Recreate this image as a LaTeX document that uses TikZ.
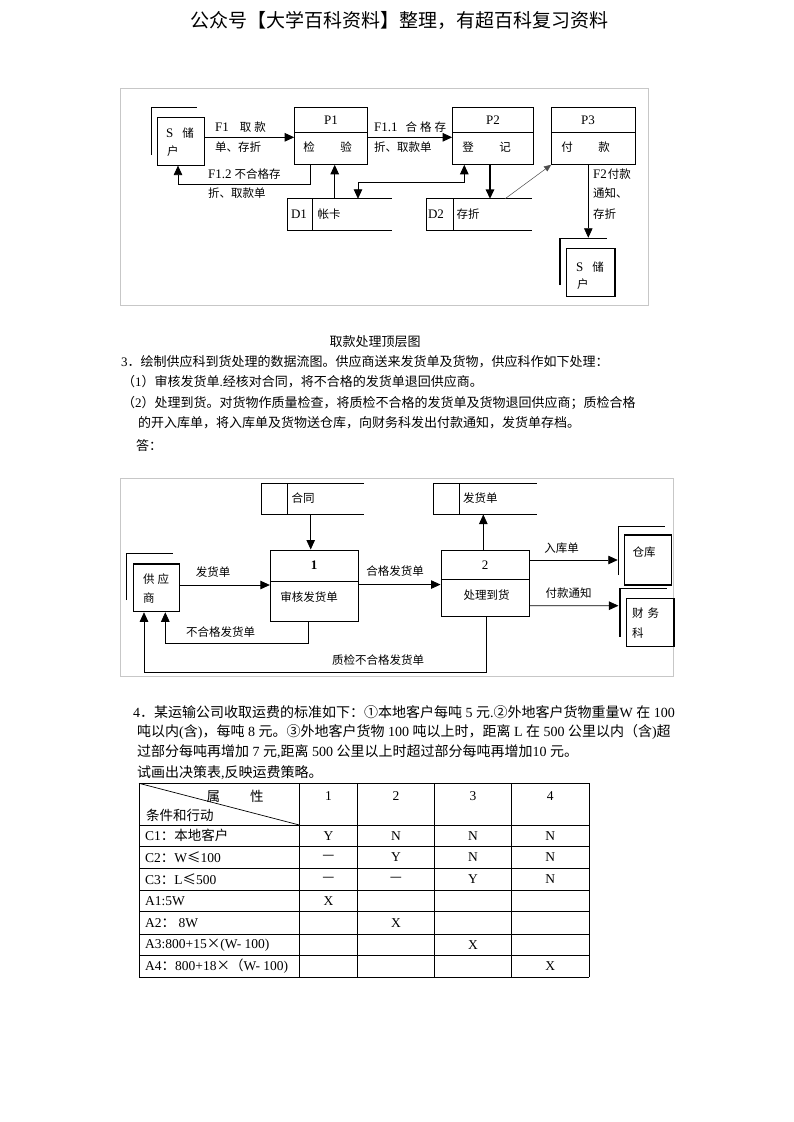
\documentclass[tikz,border=0pt]{standalone}
\usepackage{fontspec}
\setmainfont{Liberation Serif}
\newfontfamily\cjk{Noto Sans CJK SC}
\usetikzlibrary{arrows.meta}
\newcommand\zh[1]{{\cjk #1}}
\newcommand\zd[1]{{\cjk\fontsize{11.5}{13}\selectfont #1}}
\begin{document}
\begin{tikzpicture}[x=1pt,y=-1pt,
  ln/.style={line width=0.8pt},
  arr/.style={line width=0.8pt,-{Triangle[length=9.5pt,width=8.5pt]}},
  arrboth/.style={line width=0.8pt,{Triangle[length=9.5pt,width=8.5pt]}-{Triangle[length=9.5pt,width=8.5pt]}},
  procbox/.style={draw,line width=1pt,inner sep=0},
  entbox/.style={draw,line width=1.1pt,inner sep=0},
  storbox/.style={inner sep=0},
  shadowv/.style={line width=1.6pt},
  shadowh/.style={line width=0.9pt},
  frame/.style={draw=black!22,line width=0.9pt,inner sep=0},
  dtxt/.style={inner sep=0,font=\fontsize{13}{14}\selectfont},
  parx/.style={inner sep=0,anchor=west,font=\fontsize{13}{15}\selectfont},
  parf/.style={inner sep=0,anchor=west,font=\fontsize{14}{16}\selectfont},
  tb/.style={inner sep=0,font=\fontsize{13.5}{15}\selectfont},
  tbl/.style={line width=0.7pt}]
\fill[white] (0,0) rectangle (793,1122);
\useasboundingbox (0,0) rectangle (793,1122);

% header
\node[inner sep=0,font=\fontsize{19}{21}\selectfont] (hdr) at (399.5,20) {\zh{公众号【大学百科资料】整理，有超百科复习资料}};

% ================= diagram 1 =================
\node[frame,minimum width=528pt,minimum height=217pt] (fr1) at (384,196.5) {};

% S entity 1
\node[entbox,minimum width=47.4pt,minimum height=47.7pt] (s1) at (181,141.2) {};
\draw[shadowv] (151.3,155) -- (151.3,107.7);
\draw[shadowh] (151.3,107.7) -- (197,107.7);
\node[dtxt,anchor=west] (s1a) at (166,133) {S\hspace{9pt}\zd{储}};
\node[dtxt,anchor=west] (s1b) at (167,151) {\zd{户}};

% P1
\node[procbox,minimum width=72.6pt,minimum height=57pt] (p1) at (331,135.8) {};
\draw[ln] ([yshift=3.5pt]p1.west) -- ([yshift=3.5pt]p1.east);
\node[dtxt] (p1h) at (331,120) {P1};
\node[dtxt] (p1a) at (309,147.3) {\zd{检}};
\node[dtxt] (p1b) at (346,147.3) {\zd{验}};

% P2
\node[procbox,minimum width=81.3pt,minimum height=57pt] (p2) at (493.3,135.8) {};
\draw[ln] ([yshift=3.5pt]p2.west) -- ([yshift=3.5pt]p2.east);
\node[dtxt] (p2h) at (493,120) {P2};
\node[dtxt] (p2a) at (468,147.3) {\zd{登}};
\node[dtxt] (p2b) at (505,147.3) {\zd{记}};

% P3
\node[procbox,minimum width=84.3pt,minimum height=57pt] (p3) at (593.8,135.8) {};
\draw[ln] ([yshift=3.5pt]p3.west) -- ([yshift=3.5pt]p3.east);
\node[dtxt] (p3h) at (588,120) {P3};
\node[dtxt] (p3a) at (567,147.3) {\zd{付}};
\node[dtxt] (p3b) at (604,147.3) {\zd{款}};

% D1
\node[storbox,minimum width=104pt,minimum height=31.7pt] (d1) at (339.3,214.85) {};
\draw[line width=1pt] (d1.north east) -- (d1.north west) -- (d1.south west) -- (d1.south east);
\draw[line width=1pt] ([xshift=25pt]d1.north west) -- ([xshift=25pt]d1.south west);
\node[dtxt] (d1a) at (299,214) {D1};
\node[dtxt] (d1b) at (329,214) {\zd{帐卡}};

% D2
\node[storbox,minimum width=105pt,minimum height=31.7pt] (d2) at (479.2,214.85) {};
\draw[line width=1pt] (d2.north east) -- (d2.north west) -- (d2.south west) -- (d2.south east);
\draw[line width=1pt] ([xshift=26.6pt]d2.north west) -- ([xshift=26.6pt]d2.south west);
\node[dtxt] (d2a) at (436,214) {D2};
\node[dtxt] (d2b) at (468,214) {\zd{存折}};

% S entity 2
\node[entbox,minimum width=48.3pt,minimum height=48.4pt] (s2) at (590.8,272.5) {};
\draw[shadowv] (560,285) -- (560,238.3);
\draw[shadowh] (560,238.3) -- (606.7,238.3);
\node[dtxt,anchor=west] (s2a) at (576,266.7) {S\hspace{9pt}\zd{储}};
\node[dtxt,anchor=west] (s2b) at (577,284) {\zd{户}};

% connectors diagram 1
\draw[arr] ([yshift=3.9pt]s1.east) -- ([yshift=-1.5pt]p1.west);
\draw[arr] ([yshift=-1.5pt]p1.east) -- ([yshift=-1.5pt]p2.west);
\draw[arr] ([xshift=-20.7pt]p1.south) -- ++(0,19.7) -| ([xshift=-3pt]s1.south);
\draw[arr] ([xshift=-4.6pt]d1.north) -- ([xshift=3.7pt]p1.south);
\draw[arrboth] ([xshift=-29pt]p2.south) -- ++(0,17.4) -| ([xshift=18.7pt]d1.north);
\draw[arr,line width=1.6pt] ([xshift=-3.3pt]p2.south) -- ([xshift=10.8pt]d2.north);
\draw[line width=0.5pt,black!70,-{Triangle[length=7pt,width=6pt]}] ([xshift=25.8pt]d2.north) -- (p3.south west);
\draw[arr] ([xshift=-5.5pt]p3.south) -- ([xshift=-2.5pt,yshift=10pt]s2.north);

% labels diagram 1
\node[dtxt,anchor=west] (f1a) at (215,127) {F1\hspace{11pt}\zd{取\hspace{3pt}款}};
\node[dtxt,anchor=west] (f1b) at (215,147) {\zd{单、存折}};
\node[dtxt,anchor=west] (f11a) at (374,127) {F1.1\hspace{8pt}\zd{合\hspace{3pt}格\hspace{3pt}存}};
\node[dtxt,anchor=west] (f11b) at (374,147) {\zd{折、取款单}};
\node[dtxt,anchor=west] (f12a) at (208,174) {F1.2\hspace{3pt}\zd{不合格存}};
\node[dtxt,anchor=west] (f12b) at (208,193) {\zd{折、取款单}};
\node[dtxt,anchor=west] (f2a) at (593,174) {F2\hspace{1pt}\zd{付款}};
\node[dtxt,anchor=west] (f2b) at (593,193) {\zd{通知、}};
\node[dtxt,anchor=west] (f2c) at (593,214) {\zd{存折}};

% caption and text section 3
\node[inner sep=0,font=\fontsize{13}{15}\selectfont] (cap1) at (375,341.5) {\zh{取款处理顶层图}};
\node[parx] (q3a) at (121,362) {3\zh{．绘制供应科到货处理的数据流图。供应商送来发货单及货物，供应科作如下处理：}};
\node[parx] (q3b) at (122,382) {\zh{（}1\zh{）审核发货单}.\zh{经核对合同，将不合格的发货单退回供应商。}};
\node[parx] (q3c) at (122,403) {\zh{（}2\zh{）处理到货。对货物作质量检查，将质检不合格的发货单及货物退回供应商；质检合格}};
\node[parx] (q3d) at (138,423) {\zh{的开入库单，将入库单及货物送仓库，向财务科发出付款通知，发货单存档。}};
\node[parx] (q3e) at (136,446) {\zh{答：}};

% ================= diagram 2 =================
\node[frame,minimum width=553pt,minimum height=198pt] (fr2) at (396.5,577) {};

% 合同 store
\node[storbox,minimum width=102.7pt,minimum height=31pt] (ht) at (312.65,498.8) {};
\draw[line width=1pt] (ht.north east) -- (ht.north west) -- (ht.south west) -- (ht.south east);
\draw[line width=1pt] ([xshift=26pt]ht.north west) -- ([xshift=26pt]ht.south west);
\node[dtxt] (hta) at (303,498) {\zd{合同}};

% 发货单 store
\node[storbox,minimum width=103.4pt,minimum height=31pt] (fh) at (485,498.8) {};
\draw[line width=1pt] (fh.north east) -- (fh.north west) -- (fh.south west) -- (fh.south east);
\draw[line width=1pt] ([xshift=26pt]fh.north west) -- ([xshift=26pt]fh.south west);
\node[dtxt,anchor=west] (fha) at (463,498) {\zd{发货单}};

% process 1
\node[procbox,minimum width=87.7pt,minimum height=71.7pt] (q1) at (314.2,585.85) {};
\draw[ln] ([yshift=4.15pt]q1.west) -- ([yshift=4.15pt]q1.east);
\node[dtxt] (q1h) at (314,565) {\textbf{1}};
\node[dtxt] (q1a) at (309,596.7) {\zd{审核发货单}};

% process 2
\node[procbox,minimum width=88pt,minimum height=66.7pt] (q2) at (485,583.35) {};
\draw[ln] ([yshift=4.35pt]q2.west) -- ([yshift=4.35pt]q2.east);
\node[dtxt] (q2h) at (485,565) {2};
\node[dtxt] (q2a) at (486.5,595) {\zd{处理到货}};

% 供应商
\node[entbox,minimum width=46pt,minimum height=47.7pt] (gy) at (156.7,587.85) {};
\draw[shadowv] (126.3,600) -- (126.3,553.3);
\draw[shadowh] (126.3,553.3) -- (173,553.3);
\node[dtxt,anchor=west] (gya) at (143,579.3) {\zd{供\hspace{3pt}应}};
\node[dtxt,anchor=west] (gyb) at (143,598.3) {\zd{商}};

% 仓库
\node[entbox,minimum width=47.4pt,minimum height=50pt] (ck) at (648,560) {};
\draw[line width=1.2pt] (618.3,575) -- (618.3,526.7);
\draw[shadowh] (618.3,526.7) -- (665,526.7);
\node[dtxt] (cka) at (644,551.7) {\zd{仓库}};

% 财务科
\node[entbox,minimum width=47.3pt,minimum height=48.4pt] (cw) at (650.35,622.5) {};
\draw[line width=2pt] (620,636.7) -- (620,588.3);
\draw[line width=1.2pt] (620,588.3) -- (666.7,588.3);
\node[dtxt,anchor=west] (cwa) at (632,613.3) {\zd{财\hspace{4pt}务}};
\node[dtxt,anchor=west] (cwb) at (632,633.3) {\zd{科}};

% connectors diagram 2
\draw[arr] ([xshift=-1.95pt]ht.south) -- ([xshift=-3.5pt]q1.north);
\draw[arr] ([yshift=2.85pt]gy.east) -- ([yshift=0.85pt]q1.west);
\draw[arr] ([xshift=-6.2pt]q1.south) -- ++(0,21) -| ([xshift=8.6pt]gy.south);
\draw[arr] ([xshift=1pt]q2.south) -- ++(0,55) -| ([xshift=-12.7pt]gy.south);
\draw[arr] ([yshift=1.35pt]q1.east) -- ([yshift=-1.2pt]q2.west);
\draw[arr] ([xshift=-1.7pt]q2.north) -- ([xshift=-1.7pt]fh.south);
\draw[arr] ([yshift=23.35pt]q2.east) -- ([xshift=-6pt]ck.west);
\draw[arr] ([yshift=-22.35pt]q2.east) -- ([xshift=-7.7pt,yshift=16.8pt]cw.west);

% labels diagram 2
\node[dtxt] (lb1) at (213,571.7) {\zd{发货单}};
\node[dtxt] (lb2) at (220.5,632.3) {\zd{不合格发货单}};
\node[dtxt] (lb3) at (378,660) {\zd{质检不合格发货单}};
\node[dtxt] (lb4) at (395,571) {\zd{合格发货单}};
\node[dtxt] (lb5) at (561.5,547.7) {\zd{入库单}};
\node[dtxt] (lb6) at (568.5,593.3) {\zd{付款通知}};

% ================= section 4 =================
\node[parf] (q4a) at (133,712) {4\zh{．某运输公司收取运费的标准如下：①本地客户每吨} 5 \zh{元}.\zh{②外地客户货物重量}W \zh{在} 100};
\node[parf] (q4b) at (137,732) {\zh{吨以内}(\zh{含})\zh{，每吨} 8 \zh{元。③外地客户货物} 100 \zh{吨以上时，距离} L \zh{在} 500 \zh{公里以内（含})\zh{超}};
\node[parf] (q4c) at (137,752) {\zh{过部分每吨再增加} 7 \zh{元},\zh{距离} 500 \zh{公里以上时超过部分每吨再增加}10 \zh{元。}};
\node[parf] (q4d) at (137,773) {\zh{试画出决策表},\zh{反映运费策略。}};

% table
\foreach \yy in {783.3,825,846.7,868.3,890,911.7,934,955.7,977.3}
  \draw[tbl] (139,\yy) -- (589,\yy);
\foreach \xx in {139,299.3,357.7,434.3,511.7,589}
  \draw[tbl] (\xx,783.3) -- (\xx,977.3);
\draw[tbl] (139,783.3) -- (299.3,825);
\node[tb,anchor=west] (th1) at (206.5,796) {\zh{属\hspace{30pt}性}};
\node[tb,anchor=west] (th2) at (146,815) {\zh{条件和行动}};
\node[tb] (tc1) at (328.5,796) {1};
\node[tb] (tc2) at (396,796) {2};
\node[tb] (tc3) at (473,796) {3};
\node[tb] (tc4) at (550.3,796) {4};

\node[tb,anchor=west] (r1) at (145,835.8) {C1\zh{：本地客户}};
\node[tb,anchor=west] (r2) at (145,857.5) {C2\zh{：}W\zh{≤}100};
\node[tb,anchor=west] (r3) at (145,879.2) {C3\zh{：}L\zh{≤}500};
\node[tb,anchor=west] (r4) at (145,900.8) {A1:5W};
\node[tb,anchor=west] (r5) at (145,922.8) {A2\zh{：} 8W};
\node[tb,anchor=west] (r6) at (145,944.8) {A3:800+15\zh{×}(W- 100)};
\node[tb,anchor=west] (r7) at (145,966.5) {A4\zh{：}800+18\zh{×（}W- 100)};

\node[tb] (v11) at (328.5,835.8) {Y};
\node[tb] (v12) at (396,835.8) {N};
\node[tb] (v13) at (473,835.8) {N};
\node[tb] (v14) at (550.3,835.8) {N};
\node[tb] (v21) at (328.5,857.5) {\zh{—}};
\node[tb] (v22) at (396,857.5) {Y};
\node[tb] (v23) at (473,857.5) {N};
\node[tb] (v24) at (550.3,857.5) {N};
\node[tb] (v31) at (328.5,879.2) {\zh{—}};
\node[tb] (v32) at (396,879.2) {\zh{—}};
\node[tb] (v33) at (473,879.2) {Y};
\node[tb] (v34) at (550.3,879.2) {N};
\node[tb] (v41) at (328.5,900.8) {X};
\node[tb] (v52) at (396,922.8) {X};
\node[tb] (v63) at (473,944.8) {X};
\node[tb] (v74) at (550.3,966.5) {X};
\end{tikzpicture}
\end{document}
